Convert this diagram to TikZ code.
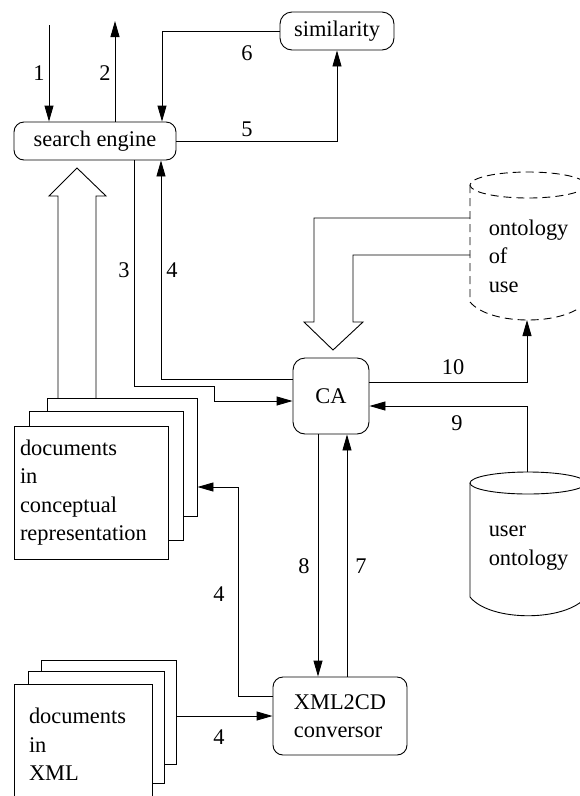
\documentclass[tikz,border=0pt]{standalone}
\usepackage{fontspec}
\setmainfont{Liberation Serif}
\usetikzlibrary{arrows.meta}
\begin{document}
\begin{tikzpicture}[x=1pt,y=-1pt,line width=0.9pt,>={Triangle[length=16pt,width=9pt]},
  every node/.style={font=\fontsize{22.4}{28.4}\selectfont}]

  \tikzstyle{proc} = [draw, rounded corners=10pt, inner sep=0pt, align=left]
  \tikzstyle{page} = [draw, fill=white, inner sep=0pt]
  \tikzstyle{onto} = [dash pattern=on 8pt off 5pt]

  \useasboundingbox (0,0) rectangle (579,796);

  % processes
  \node[proc, minimum width=162pt, minimum height=38pt] (search) at (95,141) {search engine};
  \node[proc, rounded corners=12pt, minimum width=114pt, minimum height=38pt] (sim) at (337,31) {similarity};
  \node[proc, rounded corners=12pt, minimum width=76pt, minimum height=76pt] (CA) at (331,396) {CA};
  \node[proc, minimum width=134pt, minimum height=78pt] (xml) at (340,716) {XML2CD\\conversor};

  % documents in conceptual representation
  \node[page, minimum width=150pt, minimum height=118pt] (cdoc3) at (122,457) {};
  \node[page, minimum width=154pt, minimum height=129pt] (cdoc2) at (106,475.5) {};
  \node[page, text width=142pt, align=left, inner xsep=6pt, minimum height=133pt] (cdoc1) at (91,492.5)
    {documents\\in\\conceptual\\representation};

  % documents in XML
  \node[page, minimum width=135pt, minimum height=104pt] (xdoc3) at (108.5,712) {};
  \node[page, minimum width=136pt, minimum height=112pt] (xdoc2) at (96,727) {};
  \node[page, text width=108pt, align=left, inner xsep=15pt, minimum height=121pt] (xdoc1) at (83,744.5)
    {documents\\in\\XML};

  % ontology of use
  \draw[onto] (528,185) ellipse [x radius=58, y radius=13];
  \draw[onto] (470,185) -- (470,302) .. controls (490,326) and (566,326) .. (586,302) -- (586,185);
  \node[align=left, anchor=west] (ouse) at (485,256) {ontology\\of\\use};
  \coordinate (ousebot) at (527,320);

  % user ontology
  \draw (528,483) ellipse [x radius=58, y radius=11];
  \draw (470,483) -- (470,597) .. controls (490,622) and (566,622) .. (586,597) -- (586,483);
  \node[align=left, anchor=west] (uonto) at (485,548) {user\\ontology};
  \coordinate (uontop) at (527,472);

  % hollow arrows
  \draw (58,398) -- (58,196) -- (49,196) -- (77,168) -- (106,196) -- (96,196) -- (96,398);
  \draw (470,218) -- (314,218) -- (314,322) -- (304,322) -- (333,350) -- (363,322) -- (353,322)
    -- (353,255) -- (470,255);

  % connectors
  \coordinate (in1) at (49,25);
  \coordinate (out2) at (115,21);
  \coordinate (bend4) at (238,487);

  \draw[->] (in1) -- (in1 |- search.north);
  \draw[->] (search.north -| out2) -- (out2);
  \draw[->] (sim.west) -| ([xshift=67pt]search.north);
  \draw[->] (search.east) -| (sim.south);
  \draw[->] ([xshift=39pt]search.south) |- (214,386) |- ([yshift=-5pt]CA.west);
  \draw[->] ([yshift=17pt]CA.west) -| ([xshift=66pt]search.south);
  \draw[->] ([yshift=14pt]CA.east) -| (ousebot);
  \draw[->] (uontop) |- ([yshift=-10pt]CA.east);
  \draw[->] ([xshift=-13pt]CA.south) -- ([xshift=-13pt]CA.south |- xml.north);
  \draw[->] ([xshift=16pt]CA.south |- xml.north) -- ([xshift=16pt]CA.south);
  \draw[->] ([yshift=20pt]xml.west) -| (bend4) -- (bend4 -| cdoc3.east);
  \draw[->] (xdoc3.east |- xml.west) -- (xml.west);

  % labels
  \node (l1) at (39,73) {1};
  \node (l2) at (105,73) {2};
  \node (l6) at (247,53) {6};
  \node (l5) at (247,129) {5};
  \node (l3) at (124,270) {3};
  \node (l4a) at (172,270) {4};
  \node (l10) at (453,367) {10};
  \node (l9) at (457,423) {9};
  \node (l8) at (304,566) {8};
  \node (l7) at (361,566) {7};
  \node (l4b) at (219,594) {4};
  \node (l4c) at (219,737) {4};

\end{tikzpicture}
\end{document}
